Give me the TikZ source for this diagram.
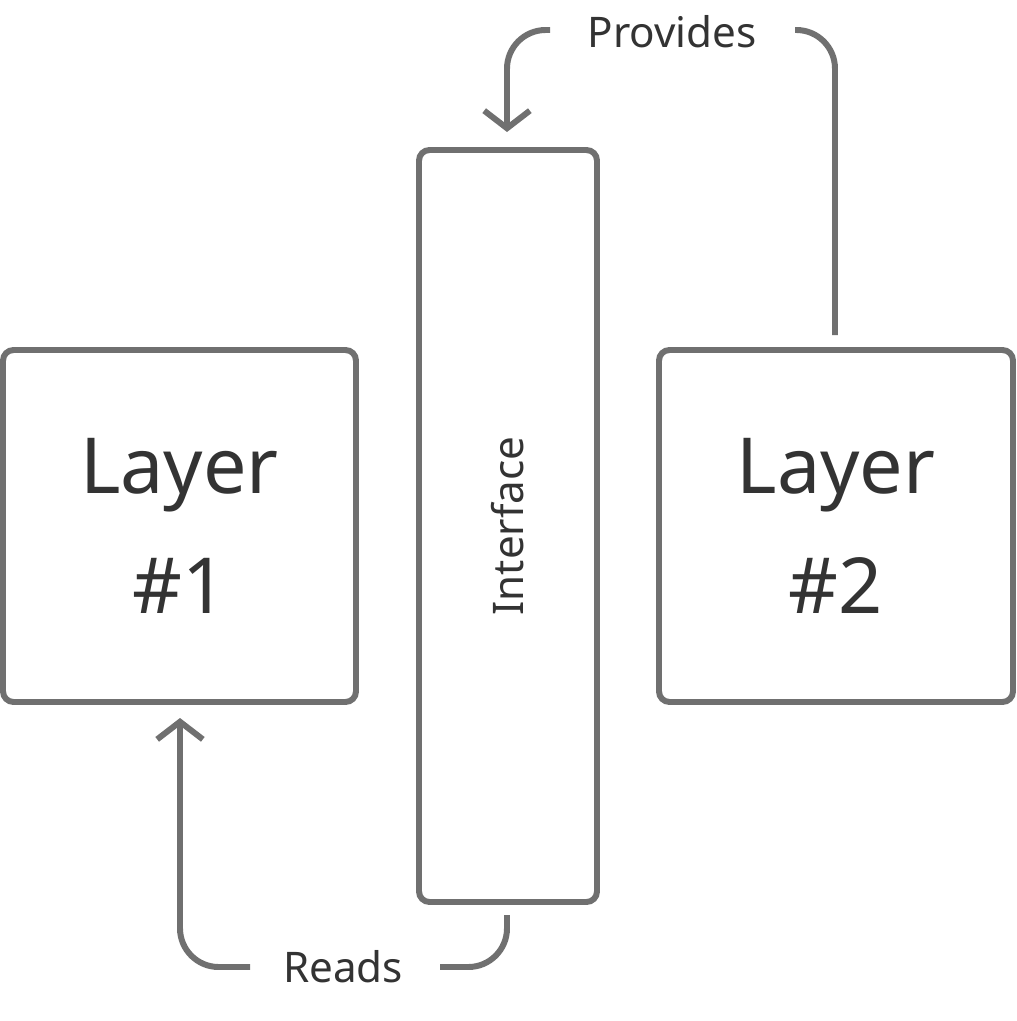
\documentclass[tikz,border=0pt]{standalone}
\usepackage{fontspec}
\setmainfont{Noto Sans}
\usetikzlibrary{positioning,arrows.meta}
\begin{document}
\begin{tikzpicture}[x=0.02cm,y=-0.02cm]
	\tikzstyle{box}=[draw=gray!60!black!80, line width=3.4pt, rounded corners=6pt, inner sep=0pt, text=black!80]
	\tikzstyle{link}=[draw=gray!60!black!80, line width=3.4pt, rounded corners=22pt, -{Straight Barb[length=10pt,width=26pt]}]
	\tikzstyle{lbl}=[text=black!80, font=\fontsize{24}{28}\selectfont]
	\useasboundingbox (0,0) rectangle (1017,1021);
		\node[box, minimum width=353*0.02cm, minimum height=352*0.02cm, align=center, font=\fontsize{44}{68}\selectfont] (l1) at (179.5,526) {Layer\\\#1};
		\node[box, minimum width=178*0.02cm, minimum height=752*0.02cm] (iface) at (508,526) {};
		\node[lbl, rotate=90] at (iface.center) {Interface};
		\node[box, minimum width=354*0.02cm, minimum height=352*0.02cm, align=center, font=\fontsize{44}{68}\selectfont] (l2) at (836,526) {Layer\\\#2};
		\node[lbl] (prov) at (672,32) {Provides};
		\node[lbl] (reads) at (343,967) {Reads};
			\coordinate (p1) at (835,335);
			\coordinate (p2) at (795,30);
			\coordinate (p3) at (550,30);
			\coordinate (p4) at (507,132);
			\coordinate (r1) at (507,915);
			\coordinate (r2) at (440,967);
			\coordinate (r3) at (250,967);
			\coordinate (r4) at (180,718);
			\draw[link,-] (p1) |- (p2);
			\draw[link] (p3) -| (p4);
			\draw[link,-] (r1) |- (r2);
			\draw[link] (r3) -| (r4);
\end{tikzpicture}
\end{document}
